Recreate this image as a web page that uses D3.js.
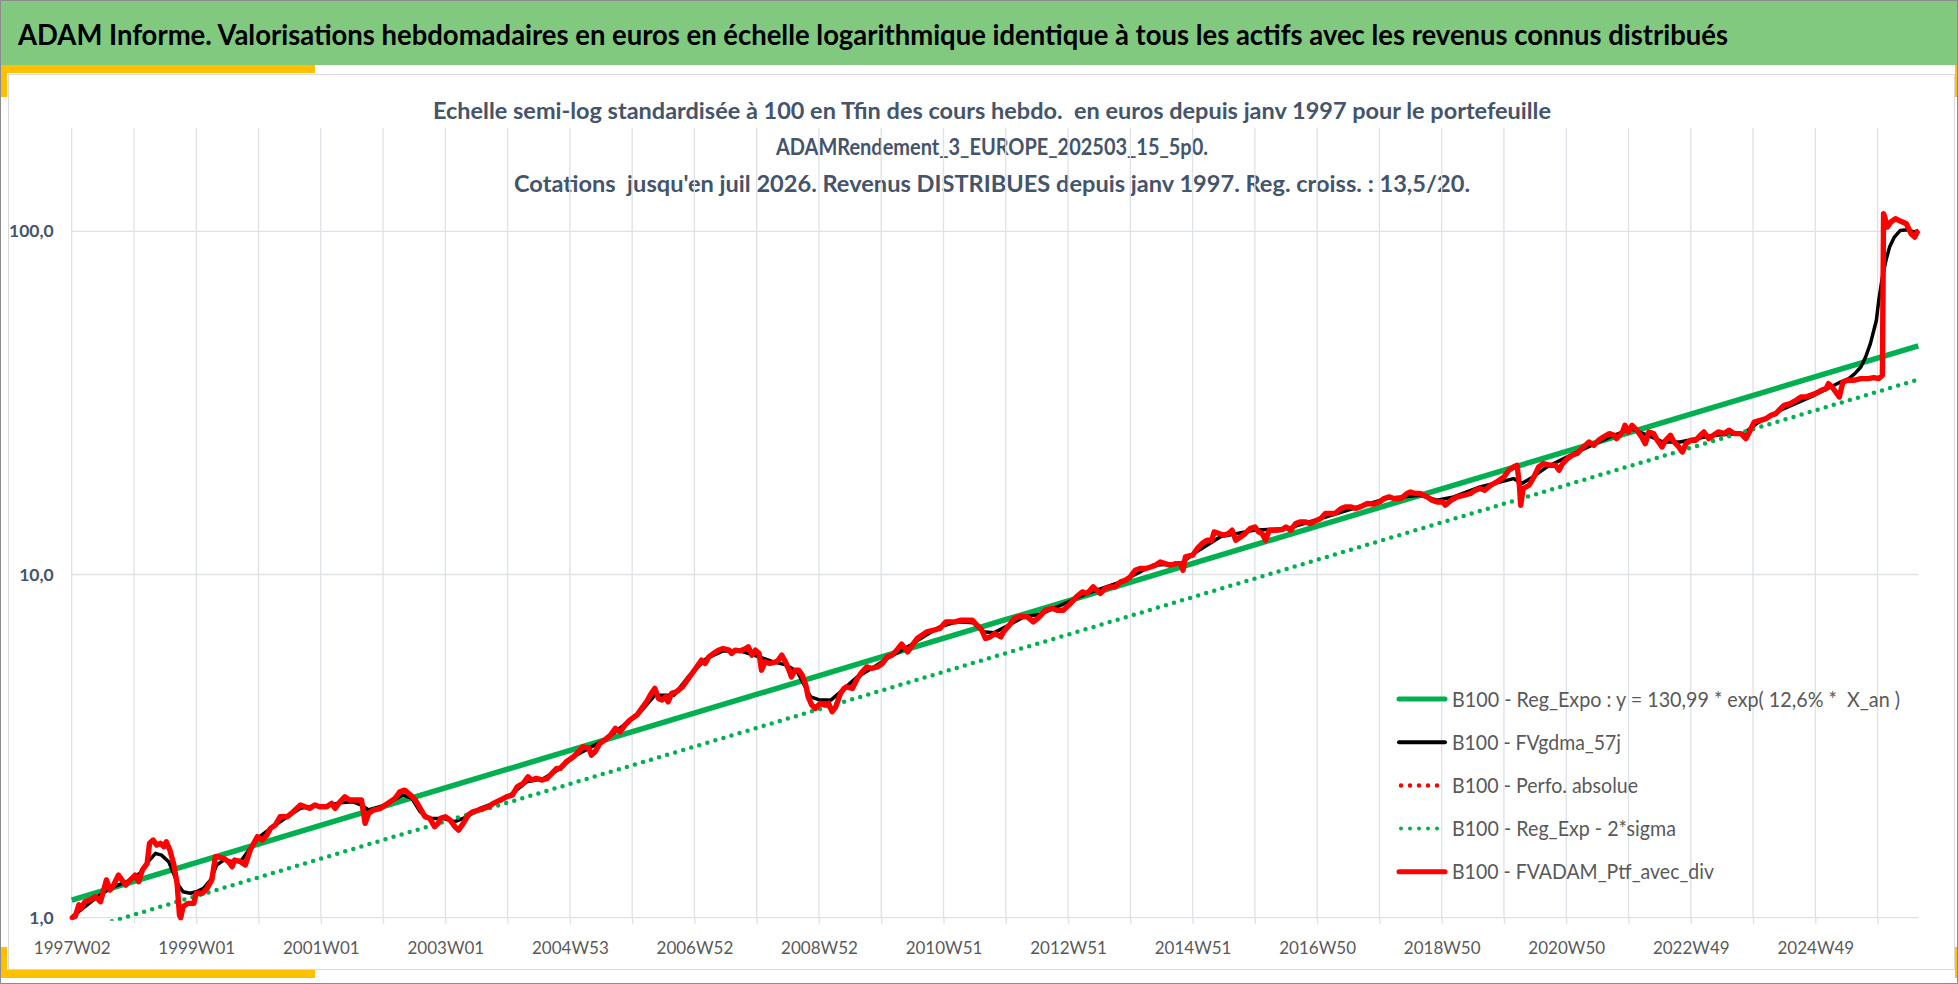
<!DOCTYPE html>
<html>
<head>
<meta charset="utf-8">
<script src="https://cdn.jsdelivr.net/npm/d3@7/dist/d3.min.js"></script>
<style>
  html, body { margin: 0; padding: 0; background: #ffffff; }
  svg { display: block; }
</style>
</head>
<body>
<script>
// ---- data (week index from 1997W02, value base 100 at end) ----
var nWeeks = 1543;
var weekLabels = ["1997W02", "1999W01", "2001W01", "2003W01", "2004W53", "2006W52", "2008W52",
  "2010W51", "2012W51", "2014W51", "2016W50", "2018W50", "2020W50", "2022W49", "2024W49"];
var yTicks = [1, 10, 100];
var yLabels = ["1,0", "10,0", "100,0"];

var legendNames = [
  "B100 - Reg_Expo : y = 130,99 * exp( 12,6% *  X_an )",
  "B100 - FVgdma_57j",
  "B100 - Perfo. absolue",
  "B100 - Reg_Exp - 2*sigma",
  "B100 - FVADAM_Ptf_avec_div"
];

// regression line and regression - 2 sigma (end points)
var regExpo = [[0, 1.126], [1542, 46.4]];
var regSigma = [[0, 0.90], [1542, 37.0]];

// portfolio with dividends (red)
var ptfDiv = [
  [0,1.00],[3,1.01],[6,1.09],[8,1.065],[11,1.113],[15,1.126],[20,1.151],[24,1.113],[26,1.178],[29,1.288],
  [32,1.204],[35,1.245],[39,1.331],[42,1.288],[45,1.245],[49,1.288],[53,1.331],[56,1.273],[59,1.377],[63,1.44],
  [65,1.647],[68,1.684],[71,1.628],[74,1.647],[77,1.61],[79,1.665],[82,1.574],[85,1.44],[88,1.259],[90,1.018],
  [91,1.00],[93,1.077],[97,1.101],[102,1.101],[104,1.178],[109,1.178],[113,1.218],[117,1.288],[120,1.505],[122,1.505],
  [127,1.489],[131,1.456],[134,1.408],[136,1.472],[141,1.456],[145,1.424],[149,1.574],[155,1.722],[159,1.684],[163,1.741],
  [166,1.821],[170,1.862],[174,1.968],[180,1.968],[185,2.035],[191,2.129],[195,2.105],[199,2.083],[203,2.129],[207,2.105],
  [213,2.105],[217,2.153],[220,2.083],[224,2.177],[228,2.251],[232,2.202],[238,2.202],[242,2.202],[245,1.883],[248,2.014],
  [252,2.059],[258,2.083],[262,2.129],[266,2.177],[270,2.227],[274,2.327],[278,2.354],[283,2.277],[287,2.202],[291,2.083],
  [295,1.968],[299,1.947],[303,1.841],[306,1.883],[308,1.947],[312,1.968],[316,1.925],[320,1.841],[323,1.80],[327,1.883],
  [331,1.991],[335,2.035],[340,2.059],[344,2.083],[348,2.105],[352,2.153],[358,2.202],[363,2.251],[368,2.277],[372,2.407],
  [377,2.463],[381,2.574],[384,2.518],[388,2.546],[393,2.518],[397,2.546],[401,2.633],[405,2.723],
  [408,2.723],[413,2.847],[419,2.943],[423,3.044],[427,3.147],[432,3.113],[434,2.977],[437,3.044],[441,3.22],[445,3.292],
  [450,3.404],[454,3.561],[458,3.481],[462,3.641],[466,3.765],[472,3.894],[476,4.072],[480,4.256],[484,4.503],[487,4.656],
  [490,4.354],[493,4.305],[496,4.401],[498,4.256],[501,4.503],[505,4.551],[510,4.707],[514,4.921],[518,5.147],[522,5.38],
  [526,5.628],[529,5.505],[532,5.754],[536,5.888],[540,6.019],[544,6.088],[549,6.019],[551,5.888],[554,6.019],[558,5.99],
  [563,6.088],[565,6.154],[568,5.821],[571,6.019],[574,5.888],[576,5.263],[579,5.565],[583,5.505],[588,5.565],[590,5.628],
  [593,5.821],[596,5.565],[599,5.263],[601,5.031],[604,5.263],[607,5.263],[610,5.089],[613,4.761],[615,4.401],[618,4.164],
  [621,4.072],[625,4.211],[629,4.164],[632,4.211],[635,3.981],[638,4.116],[642,4.503],[645,4.656],[647,4.707],[652,4.656],
  [656,4.978],[660,5.204],[664,5.38],[668,5.324],[673,5.38],[677,5.505],[681,5.754],[685,5.821],[689,6.019],[693,6.266],
  [698,5.951],[702,6.224],[706,6.51],[710,6.656],[714,6.806],[720,6.882],[725,6.96],[730,7.278],[734,7.278],[738,7.278],
  [742,7.36],[746,7.36],[752,7.36],[756,7.118],[760,6.882],[763,6.51],[767,6.58],[771,6.732],[776,6.58],[778,6.806],
  [783,7.118],[787,7.444],[792,7.56],[798,7.523],[803,7.278],[808,7.523],
  [813,7.87],[819,7.962],[823,7.87],[828,7.87],[834,8.233],[839,8.605],[844,8.899],[848,8.805],[853,9.204],[859,8.805],
  [863,9.105],[867,9.204],[871,9.204],[876,9.517],[880,9.625],[884,9.84],[888,10.29],[892,10.41],[897,10.41],[901,10.52],
  [905,10.64],[909,10.88],[913,10.76],[917,10.64],[922,10.76],[926,10.76],[928,10.29],[930,11.25],[936,11.38],[940,11.91],
  [944,12.31],[948,12.59],[952,12.59],[954,13.31],[958,13.17],[962,13.02],[966,13.17],[969,13.46],[972,12.59],[976,12.87],
  [980,13.17],[984,13.61],[988,13.76],[991,13.31],[994,13.17],[997,12.59],[1000,13.46],[1005,13.46],[1011,13.52],[1014,13.76],
  [1018,13.46],[1022,14.08],[1026,14.23],[1030,14.23],[1034,14.08],[1037,14.23],[1043,14.56],[1047,15.06],[1051,15.06],[1055,15.06],
  [1060,15.57],[1064,15.74],[1068,15.74],[1072,15.57],[1076,15.74],[1082,16.1],[1087,16.03],[1092,16.27],[1096,16.65],[1100,16.83],
  [1104,16.65],[1110,16.65],[1115,17.22],[1118,17.4],[1122,17.22],[1126,17.22],[1132,16.83],[1136,16.46],[1140,16.27],[1145,16.27],
  [1147,15.92],[1152,16.46],[1157,16.83],[1163,17.02],[1168,17.22],[1172,17.6],
  [1176,17.8],[1180,17.6],[1185,18.2],[1190,18.61],[1196,19.24],[1200,20.13],[1204,20.58],[1207,20.81],[1209,17.99],[1210,15.92],
  [1212,17.8],[1217,18.2],[1221,19.24],[1225,20.58],[1229,21.05],[1235,20.81],[1239,20.81],[1242,20.13],[1245,21.05],[1249,21.77],
  [1253,22.25],[1257,22.51],[1261,23.27],[1267,24.33],[1271,23.8],[1275,24.61],[1279,25.16],[1284,25.74],[1288,25.45],[1290,24.89],
  [1295,26.02],[1297,27.21],[1300,26.02],[1303,27.21],[1307,26.32],[1311,25.16],[1314,24.07],[1317,26.02],[1321,25.74],[1324,24.61],
  [1328,23.53],[1331,24.61],[1335,25.45],[1338,24.33],[1342,23.53],[1345,22.75],[1348,24.07],[1352,24.61],[1356,24.61],[1360,25.45],
  [1363,26.02],[1367,24.89],[1371,25.45],[1375,26.02],[1380,25.74],[1384,26.32],[1388,25.74],[1394,25.74],[1398,24.89],[1401,26.02],
  [1405,27.82],[1410,28.14],[1415,28.47],[1419,29.1],[1423,29.43],[1427,30.44],[1430,31.12],[1435,31.48],[1440,32.18],[1444,32.9],
  [1448,32.9],[1452,33.28],[1456,33.66],[1461,34.41],[1465,34.8],[1467,35.99],[1470,35.18],[1473,34.02],[1476,32.9],[1479,36.38],
  [1483,36.8],[1488,36.8],[1494,37.22],[1500,37.22],[1505,37.47],[1509,37.22],[1512,38.06],[1513,112.5],[1514,110.0],[1516,102.9],
  [1519,106.4],[1523,108.8],[1527,107.1],[1532,105.2],[1536,98.4],[1539,96.2],[1541,99.5],[1542,100.6]
];

// moving average FVgdma_57j (black)
var movAvg = [
  [1,1.01],[18,1.126],[32,1.218],[46,1.273],[57,1.347],[65,1.472],[70,1.54],[75,1.522],[81,1.456],[85,1.347],
  [89,1.245],[93,1.19],[99,1.178],[104,1.19],[110,1.218],[116,1.288],[121,1.424],[127,1.472],[135,1.456],[142,1.472],
  [149,1.593],[157,1.722],[168,1.841],[180,1.968],[191,2.083],[202,2.115],[213,2.115],[224,2.162],[235,2.177],[242,2.129],
  [248,2.059],[258,2.105],[269,2.202],[277,2.277],[284,2.227],[291,2.035],[299,1.947],[310,1.947],[320,1.904],[330,1.968],
  [341,2.083],[352,2.153],[366,2.277],[380,2.489],[394,2.546],[408,2.723],[419,2.943],[447,3.33],[475,3.981],[487,4.451],
  [503,4.451],[516,5.089],[530,5.693],[544,5.99],[558,5.99],[572,5.782],[586,5.565],[597,5.443],[606,5.204],[611,4.815],
  [617,4.401],[625,4.305],[634,4.305],[642,4.551],[656,5.031],[670,5.38],[683,5.754],[698,6.154],[712,6.611],[725,7.038],
  [739,7.278],[753,7.229],[761,6.806],[770,6.76],[781,7.071],[795,7.523],[809,7.661],[820,7.962],[848,8.805],[876,9.517],
  [903,10.64],[926,10.76],[937,11.51],[959,12.87],[987,13.46],[1015,13.61],[1043,14.56],[1070,15.57],[1098,16.65],[1126,17.02],
  [1140,16.46],[1154,16.83],[1176,17.99],[1204,19.03],[1211,18.41],[1218,19.03],[1232,20.58],[1260,23.01],[1288,25.45],[1302,26.62],
  [1316,25.45],[1329,24.33],[1343,24.33],[1371,25.45],[1396,25.74],[1407,27.53],[1427,30.1],[1455,33.28],[1469,35.18],[1477,36.38],
  [1484,37.22],[1489,38.49],[1494,40.24],[1498,43.03],[1502,47.07],[1507,55.04],[1509,62.91],[1512,73.55],[1515,82.29],[1518,89.95],
  [1522,96.2],[1527,100.6],[1533,101.1],[1539,99.5],[1542,100.6]
];

// ---- layout ----
var W = 1958, H = 984;
var plot = { left: 71.7, right: 1918.3, top: 128, bottom: 917.7 };
var font = "Lato, 'Open Sans', 'DejaVu Sans', sans-serif";
var green = "#00b050", red = "#ff0000", black = "#000000";
var gridColor = "#dde1e8";

var svg = d3.select("body").append("svg")
  .attr("width", W)
  .attr("height", H)
  .style("font-family", font);

svg.append("rect").attr("x", 0).attr("y", 0).attr("width", W).attr("height", H).attr("fill", "#ffffff");

// header band
svg.append("rect").attr("x", 0).attr("y", 0).attr("width", W).attr("height", 65).attr("fill", "#80c97f");
svg.append("text")
  .attr("x", 18).attr("y", 45)
  .attr("font-size", 28).attr("font-weight", "bold").attr("fill", "#000000")
  .attr("textLength", 1710).attr("lengthAdjust", "spacingAndGlyphs")
  .text("ADAM Informe. Valorisations hebdomadaires en euros en échelle logarithmique identique à tous les actifs avec les revenus connus distribués");

// chart panel and yellow corner marks
svg.append("rect").attr("x", 8.5).attr("y", 74.5).attr("width", 1946).attr("height", 895)
  .attr("fill", "#ffffff").attr("stroke", "#d9d9d9").attr("stroke-width", 1);
var yellow = "#ffc000";
svg.append("rect").attr("x", 0).attr("y", 65).attr("width", 315).attr("height", 8).attr("fill", yellow);
svg.append("rect").attr("x", 0).attr("y", 65).attr("width", 7).attr("height", 32).attr("fill", yellow);
svg.append("rect").attr("x", 0).attr("y", 970).attr("width", 315).attr("height", 8).attr("fill", yellow);
svg.append("rect").attr("x", 0).attr("y", 947).attr("width", 7).attr("height", 31).attr("fill", yellow);
svg.append("rect").attr("x", 1955).attr("y", 65).attr("width", 3).attr("height", 32).attr("fill", yellow);
svg.append("rect").attr("x", 1955).attr("y", 947).attr("width", 3).attr("height", 31).attr("fill", yellow);

// subtitle
var subLines = [
  "Echelle semi-log standardisée à 100 en Tfin des cours hebdo.  en euros depuis janv 1997 pour le portefeuille",
  "ADAMRendement_3_EUROPE_202503_15_5p0.",
  "Cotations  jusqu'en juil 2026. Revenus DISTRIBUES depuis janv 1997. Reg. croiss. : 13,5/20."
];
var subWidths = [1118, 432, 956];
svg.selectAll(".sub").data(subLines).enter().append("text")
  .attr("class", "sub")
  .attr("x", 992).attr("y", function(d, i) { return 118.5 + i * 36.5; })
  .attr("text-anchor", "middle")
  .attr("font-size", 22).attr("font-weight", "bold").attr("fill", "#44546a")
  .attr("textLength", function(d, i) { return subWidths[i]; })
  .attr("lengthAdjust", "spacingAndGlyphs")
  .style("white-space", "pre")
  .text(function(d) { return d; });

// scales
var x = d3.scaleLinear().domain([0, nWeeks - 1]).range([plot.left, plot.right]);
var y = d3.scaleLog().domain([1, 200]).range([plot.bottom, plot.top]);

// gridlines
var gridWeeks = d3.range(0, nWeeks, 52);
svg.append("g").selectAll("line").data(gridWeeks).enter().append("line")
  .attr("x1", function(d) { return x(d); }).attr("x2", function(d) { return x(d); })
  .attr("y1", plot.top).attr("y2", plot.bottom)
  .attr("stroke", gridColor).attr("stroke-width", 1.3);
svg.append("g").selectAll("line").data(yTicks).enter().append("line")
  .attr("x1", plot.left).attr("x2", plot.right)
  .attr("y1", function(d) { return y(d); }).attr("y2", function(d) { return y(d); })
  .attr("stroke", gridColor).attr("stroke-width", 1.3);

// x axis
var xAxis = d3.axisBottom(x)
  .tickValues(gridWeeks)
  .tickSize(6)
  .tickPadding(18)
  .tickFormat(function(d, i) { return i % 2 === 0 ? weekLabels[i / 2] : ""; });
var gx = svg.append("g").attr("transform", "translate(0," + plot.bottom + ")").call(xAxis);
gx.select(".domain").remove();
gx.selectAll(".tick line").attr("stroke", gridColor).attr("stroke-width", 1.3);
gx.selectAll(".tick text")
  .attr("font-family", font).attr("font-size", 17).attr("fill", "#595959");

// y axis
var yAxis = d3.axisLeft(y)
  .tickValues(yTicks)
  .tickSize(0)
  .tickPadding(18)
  .tickFormat(function(d, i) { return yLabels[i]; });
var gy = svg.append("g").attr("transform", "translate(" + plot.left + ",0)").call(yAxis);
gy.select(".domain").remove();
gy.selectAll(".tick text")
  .attr("font-family", font).attr("font-size", 17.5).attr("font-weight", "bold").attr("fill", "#44546a");

// series
svg.append("clipPath").attr("id", "plotClip").append("rect")
  .attr("x", plot.left - 4).attr("y", plot.top)
  .attr("width", plot.right - plot.left + 8).attr("height", plot.bottom - plot.top + 3);

var line = d3.line()
  .x(function(d) { return x(d[0]); })
  .y(function(d) { return y(d[1]); });

var series = svg.append("g").attr("clip-path", "url(#plotClip)")
  .attr("fill", "none").attr("stroke-linejoin", "round");

series.append("path").attr("d", line(regExpo))
  .attr("stroke", green).attr("stroke-width", 5.5);
series.append("path").attr("d", line(movAvg))
  .attr("stroke", black).attr("stroke-width", 3.5);
series.append("path").attr("d", line(ptfDiv))
  .attr("stroke", red).attr("stroke-width", 4.5)
  .attr("stroke-dasharray", "0 8.4").attr("stroke-linecap", "round");
series.append("path").attr("d", line(regSigma))
  .attr("stroke", green).attr("stroke-width", 4.5)
  .attr("stroke-dasharray", "0 8.4").attr("stroke-linecap", "round");
series.append("path").attr("d", line(ptfDiv))
  .attr("stroke", red).attr("stroke-width", 5.4);

// legend
var legendStyles = [
  { color: green, width: 5, dash: null },
  { color: black, width: 4, dash: null },
  { color: red, width: 4.5, dash: "0 9" },
  { color: green, width: 4, dash: "0 9" },
  { color: red, width: 5, dash: null }
];
var legendWidths = [448, 169, 186, 224, 262];
var legend = svg.append("g");
var rows = legend.selectAll("g").data(legendNames).enter().append("g")
  .attr("transform", function(d, i) { return "translate(0," + (699 + i * 43.2) + ")"; });
rows.append("line")
  .attr("x1", function(d, i) { return legendStyles[i].dash ? 1401 : 1399; })
  .attr("x2", 1445)
  .attr("y1", 0).attr("y2", 0)
  .attr("stroke", function(d, i) { return legendStyles[i].color; })
  .attr("stroke-width", function(d, i) { return legendStyles[i].width; })
  .attr("stroke-dasharray", function(d, i) { return legendStyles[i].dash; })
  .attr("stroke-linecap", "round");
rows.append("text")
  .attr("x", 1452).attr("y", 7.5)
  .attr("font-size", 21).attr("fill", "#595959")
  .attr("textLength", function(d, i) { return legendWidths[i]; })
  .attr("lengthAdjust", "spacingAndGlyphs")
  .style("white-space", "pre")
  .text(function(d) { return d; });

// outer frame
svg.append("rect").attr("x", 0.5).attr("y", 0.5).attr("width", W - 1).attr("height", H - 1)
  .attr("fill", "none").attr("stroke", "#8c8c8c").attr("stroke-width", 1);
</script>
</body>
</html>
